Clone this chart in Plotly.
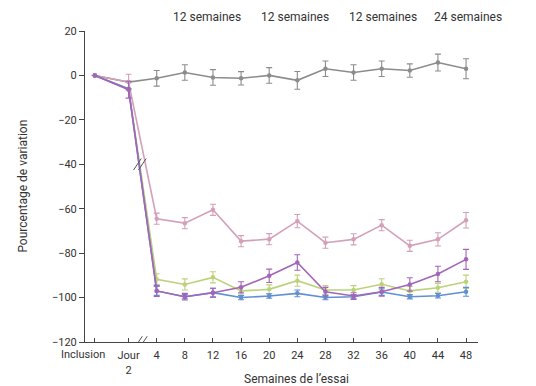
import plotly.graph_objects as go

# ---- data ----
x_pos = [-4.8, 0, 4, 8, 12, 16, 20, 24, 28, 32, 36, 40, 44, 48]
x_labels = ["Inclusion", "Jour<br>2", "4", "8", "12", "16", "20", "24", "28", "32", "36", "40", "44", "48"]

gray = [0, -3, -1.3, 1.3, -0.9, -1.3, 0, -2.2, 3, 1.3, 3, 2.2, 5.8, 3]
gray_err = [0, 0, 3.5, 3.5, 3.5, 3, 3.5, 4, 3.5, 3.5, 3.5, 3, 3.8, 4.5]

pink = [0, -3, -64.5, -66.5, -60.5, -74.6, -73.7, -65.6, -75.3, -73.8, -67.4, -76.7, -73.8, -65.2]
pink_err = [0, 3.5, 2.5, 2.5, 2.5, 2.5, 2.5, 3, 2.5, 2.5, 2.5, 2.5, 3, 3.5]

green = [0, -6, -91.8, -94.1, -90.9, -97, -96.3, -92.4, -96.6, -96.6, -94, -97, -95.6, -92.9]
green_err = [0, 0, 2.5, 2.5, 2.5, 2, 2, 2.5, 2, 2, 2.5, 2, 2, 3]

blue = [0, -6, -97, -99.6, -97.8, -100, -99.3, -98.1, -100, -99.6, -97.5, -99.6, -99.2, -97.4]
blue_err = [0, 0, 2, 1, 2, 1, 1, 1.5, 1, 1, 1.5, 1, 1, 2]

purple = [0, -6.4, -97, -99.6, -97.8, -95.4, -90.2, -84.2, -97.4, -99.3, -97.4, -94.1, -89.4, -82.8]
purple_err = [0, 3.8, 2.5, 1.5, 2, 2.5, 3, 3.5, 2, 1.5, 2, 3, 3.5, 4.5]

y_ticks = [20, 0, -20, -40, -60, -80, -100, -120]
top_labels = ["12 semaines", "12 semaines", "12 semaines", "24 semaines"]
top_x = [11.2, 23.7, 36.2, 48.3]

series = [
    ("Placebo", gray, gray_err, "#8c8c8c"),
    ("Rose", pink, pink_err, "#d4a0b8"),
    ("Vert", green, green_err, "#bcd27a"),
    ("Bleu", blue, blue_err, "#5f8fd4"),
    ("Violet", purple, purple_err, "#a464b8"),
]

FONT = "Roboto"
fig = go.Figure()
for name, vals, err, col in series:
    fig.add_trace(go.Scatter(
        x=x_pos, y=vals, mode="lines+markers", name=name,
        line=dict(color=col, width=1.6),
        marker=dict(color=col, size=4.5),
        error_y=dict(type="data", array=err, visible=True, color=col, thickness=1.1, width=3),
        showlegend=False,
    ))

shapes = []
# break marks on x axis and on lines
for bx, by in [(1.75, -120), (1.6, -40)]:
    for dx in [-0.35, 0.35]:
        shapes.append(dict(type="line", xref="x", yref="y",
                           x0=bx + dx - 0.55, y0=by - 2.6, x1=bx + dx + 0.55, y1=by + 2.6,
                           line=dict(color="#555555", width=1)))
# blue frame strip on the right
shapes.append(dict(type="rect", xref="paper", yref="paper", x0=1.135, x1=1.16, y0=-0.2, y1=1.3,
                   fillcolor="#6fa8dc", line=dict(width=0), layer="above"))

annotations = []
for tx, tl in zip(top_x, top_labels):
    annotations.append(dict(x=tx, y=1.045, xref="x", yref="paper", text=tl, showarrow=False,
                            xanchor="center", yanchor="middle",
                            font=dict(size=12, color="#333333", family=FONT)))
# first category label drawn slightly left of its tick, as in the original
annotations.append(dict(x=x_pos[0], y=0, xref="x", yref="paper", text=x_labels[0], showarrow=False,
                        xanchor="center", yanchor="top", xshift=-12, yshift=-4,
                        font=dict(size=11, color="#333333", family=FONT)))
annotations.append(dict(x=-0.160, y=0.5, xref="paper", yref="paper", text="Pourcentage de variation",
                        xanchor="center", yanchor="middle",
                        textangle=-90, showarrow=False, font=dict(size=12, color="#333333", family=FONT)))
annotations.append(dict(x=0.539, y=-0.119, xref="paper", yref="paper", text="Semaines de l’essai",
                        xanchor="center", yanchor="middle",
                        showarrow=False, font=dict(size=12, color="#333333", family=FONT)))

fig.update_layout(
    width=528, height=378,
    margin=dict(l=77, r=58, t=23, b=44),
    paper_bgcolor="white", plot_bgcolor="white",
    font=dict(family=FONT, size=11, color="#333333"),
    shapes=shapes, annotations=annotations,
    xaxis=dict(range=[-6.2, 49.7], tickvals=x_pos, ticktext=[""] + x_labels[1:], showgrid=False,
               zeroline=False, showline=True, linecolor="#444444", linewidth=1, ticks="inside", ticklen=4,
               tickcolor="#444444", tickfont=dict(size=11), tickangle=0, automargin=False,
               ticklabelstandoff=3),
    yaxis=dict(range=[-120, 20], tickvals=y_ticks, showgrid=False, zeroline=False,
               showline=True, linecolor="#444444", linewidth=1, ticks="outside", ticklen=5,
               tickcolor="#444444", tickfont=dict(size=11), automargin=False),
)
fig.write_html("out.html")
